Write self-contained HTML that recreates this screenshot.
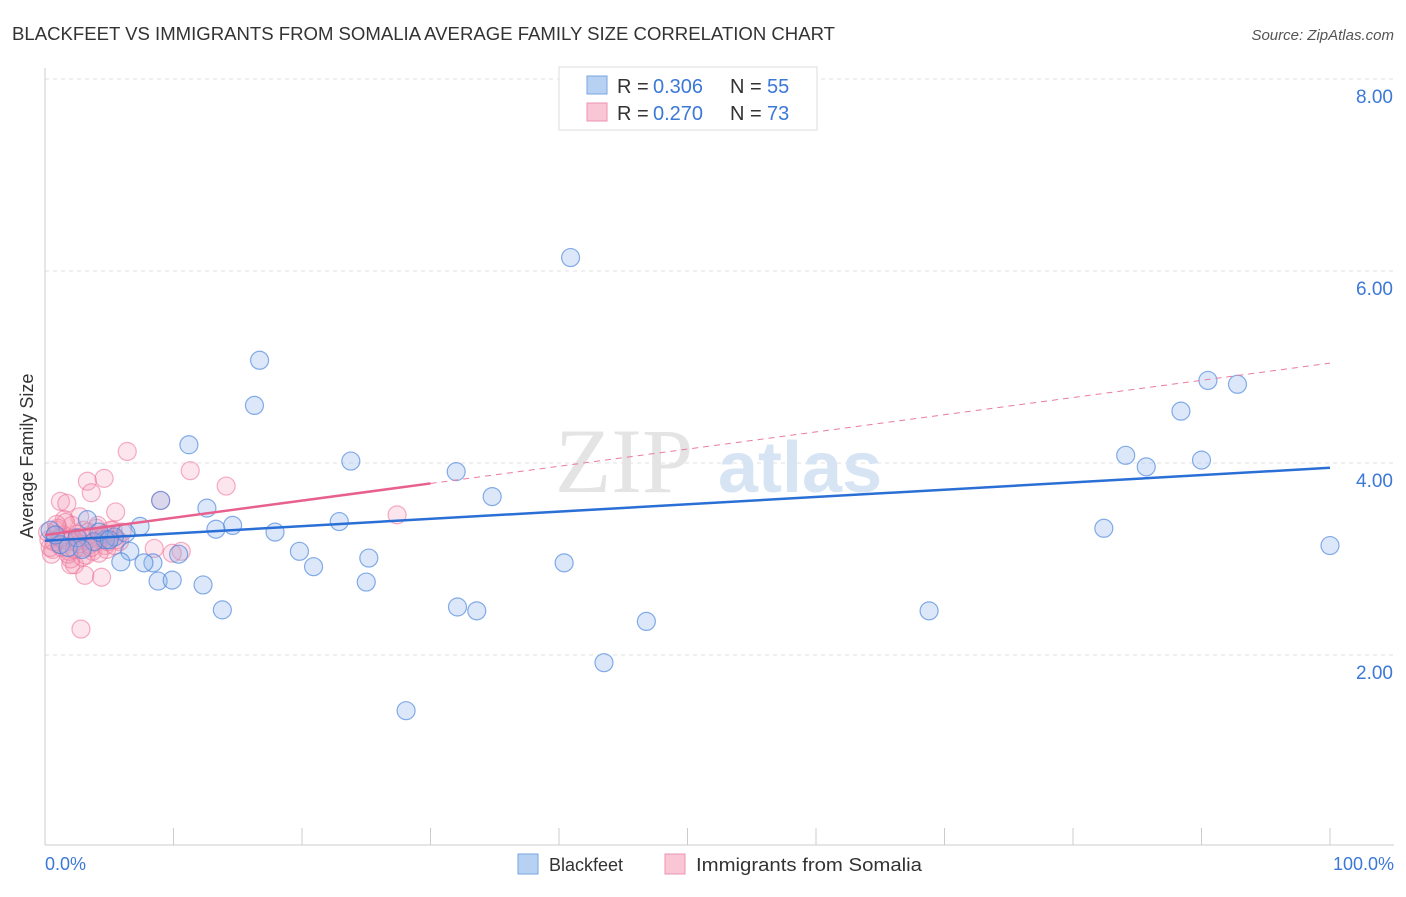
<!DOCTYPE html>
<html><head><meta charset="utf-8"><style>
body{margin:0;background:#fff;font-family:"Liberation Sans",sans-serif}
</style></head><body>
<svg width="1406" height="892" xmlns="http://www.w3.org/2000/svg" font-family="Liberation Sans, sans-serif">
<text x="12" y="40" font-size="18" fill="#333" textLength="823" lengthAdjust="spacingAndGlyphs">BLACKFEET VS IMMIGRANTS FROM SOMALIA AVERAGE FAMILY SIZE CORRELATION CHART</text>
<text x="1394" y="40" font-size="15" fill="#555" font-style="italic" text-anchor="end">Source: ZipAtlas.com</text>
<g id="grid"></g>
<text x="555" y="492" font-size="92" fill="#e4e4e4" font-family="Liberation Serif, serif">ZIP</text>
<text x="718" y="492" font-size="72" fill="#d6e4f4" font-weight="bold">atlas</text>
<line x1="45" y1="68" x2="45" y2="845" stroke="#ccc"/>
<line x1="45" y1="845" x2="1394" y2="845" stroke="#ccc"/>
<g id="ticks"></g>
<g id="marks"></g>
<g id="lines"></g>
<text x="33" y="456" font-size="18" fill="#333" text-anchor="middle" transform="rotate(-90 33 456)">Average Family Size</text>
<text x="45" y="870" font-size="18" fill="#3b78d8">0.0%</text>
<text x="1394" y="870" font-size="18" fill="#3b78d8" text-anchor="end">100.0%</text>
<g>
<rect x="559" y="67" width="258" height="63" fill="#fff" stroke="#ddd"/>
<rect x="587" y="76" width="20" height="18" fill="#b7d1f3" stroke="#7aa6e0"/>
<rect x="587" y="103" width="20" height="18" fill="#f9c6d6" stroke="#ee93b0"/>
<text x="617" y="93" font-size="20" fill="#333">R =</text><text x="653" y="93" font-size="20" fill="#3b78d8">0.306</text>
<text x="730" y="93" font-size="20" fill="#333">N =</text><text x="767" y="93" font-size="20" fill="#3b78d8">55</text>
<text x="617" y="120" font-size="20" fill="#333">R =</text><text x="653" y="120" font-size="20" fill="#3b78d8">0.270</text>
<text x="730" y="120" font-size="20" fill="#333">N =</text><text x="767" y="120" font-size="20" fill="#3b78d8">73</text>
</g>
<g>
<rect x="518" y="854" width="20" height="20" fill="#b7d1f3" stroke="#7aa6e0"/>
<text x="549" y="871" font-size="18" fill="#333">Blackfeet</text>
<rect x="665" y="854" width="20" height="20" fill="#f9c6d6" stroke="#ee93b0"/>
<text x="696" y="871" font-size="18" fill="#333" textLength="226" lengthAdjust="spacingAndGlyphs">Immigrants from Somalia</text>
</g>
</svg>
<script>
const yTicks=[2,4,6,8];
const yTickLabels=["2.00","4.00","6.00","8.00"];
const blackX=[40.9,16.7,16.3,11.2,23.8,32.0,34.8,9.0,12.6,14.6,13.3,17.9,22.9,7.4,6.3,3.3,5.4,4.7,6.6,10.4,19.8,25.2,5.9,8.4,7.7,20.9,40.4,8.8,9.9,12.3,25.0,13.8,32.1,33.6,46.8,43.5,28.1,68.8,82.4,84.1,85.7,88.4,90.0,90.5,92.8,100,0.4,1.2,2.5,3.8,1.8,0.8,2.9,4.2,5.0];
const blackY=[6.14,5.07,4.60,4.19,4.02,3.91,3.65,3.61,3.53,3.35,3.31,3.28,3.39,3.34,3.27,3.41,3.23,3.20,3.08,3.05,3.08,3.01,2.97,2.96,2.96,2.92,2.96,2.77,2.78,2.73,2.76,2.47,2.50,2.46,2.35,1.92,1.42,2.46,3.32,4.08,3.96,4.54,4.03,4.86,4.82,3.14,3.30,3.15,3.22,3.18,3.12,3.25,3.10,3.28,3.20];
const somX=[6.4,11.3,3.3,4.6,14.1,3.6,1.2,1.7,9.0,5.5,27.4,2.7,1.5,8.5,10.6,9.9,2.0,2.3,3.1,4.4,2.8,0.3,0.6,0.9,1.1,1.4,1.8,2.1,2.4,2.6,3.0,3.4,3.7,4.0,4.3,4.7,5.0,5.3,5.8,0.5,0.8,1.3,1.6,2.2,2.9,3.5,4.1,4.8,0.2,0.7,1.0,1.9,2.5,3.2,3.9,4.5,5.1,0.4,1.5,2.7,3.3,4.2,5.6,6.0,0.9,2.0,3.6,4.9,1.2,2.3,3.0,4.6,5.4];
const somY=[4.12,3.92,3.81,3.84,3.76,3.69,3.60,3.58,3.61,3.49,3.46,3.44,3.41,3.11,3.08,3.06,2.94,2.94,2.83,2.81,2.27,3.20,3.10,3.30,3.15,3.25,3.05,3.35,3.18,3.22,3.12,3.28,3.08,3.32,3.20,3.14,3.24,3.30,3.18,3.05,3.25,3.12,3.38,3.22,3.02,3.15,3.35,3.10,3.28,3.18,3.32,3.08,3.26,3.04,3.18,3.22,3.30,3.12,3.20,3.16,3.24,3.06,3.20,3.28,3.36,3.00,3.12,3.18,3.22,3.10,3.30,3.26,3.14];
const blueTrend=[3.19,3.95];
const pinkTrend=[3.25,5.04];
const pinkSolidEnd=30;
const xTickPct=[0,10,20,30,40,50,60,70,80,90,100];
const NS="http://www.w3.org/2000/svg";
const xs=p=>45+p*12.85, ys=v=>655-(v-2)*96;
function mk(t,a,parent){const e=document.createElementNS(NS,t);for(const k in a)e.setAttribute(k,a[k]);document.getElementById(parent).appendChild(e);return e;}
yTicks.forEach((v,i)=>{
 const l=mk('line',{x1:45,x2:1394,y1:ys(v),y2:ys(v),stroke:'#e2e2e2','stroke-dasharray':'4 4'},'grid');
 
 
 const t=mk('text',{x:1393,y:ys(v)+24,'font-size':19,fill:'#3b78d8','text-anchor':'end'},'grid');
 t.textContent=yTickLabels[i];
 
 
});
xTickPct.forEach(p=>{
 const l=mk('line',{x1:xs(p),x2:xs(p),y1:828,y2:845,stroke:'#ccc'},'ticks');
 
 
});
somX.forEach((x,i)=>{
 const c=mk('circle',{cx:xs(x),cy:ys(somY[i]),r:9,fill:'rgba(244,150,180,0.25)',stroke:'rgba(236,110,150,0.55)','stroke-width':1.2},'marks');
 
 
});
blackX.forEach((x,i)=>{
 const c=mk('circle',{cx:xs(x),cy:ys(blackY[i]),r:9,fill:'rgba(140,180,235,0.3)',stroke:'rgba(70,130,220,0.65)','stroke-width':1.2},'marks');
 
 
});
const pv=p=>pinkTrend[0]+(pinkTrend[1]-pinkTrend[0])*p/100;
let l1=mk('line',{x1:xs(pinkSolidEnd),y1:ys(pv(pinkSolidEnd)),x2:xs(100),y2:ys(pv(100)),stroke:'#ec7ba0','stroke-width':1,'stroke-dasharray':'6 5'},'lines');


let l2=mk('line',{x1:xs(0),y1:ys(pv(0)),x2:xs(pinkSolidEnd),y2:ys(pv(pinkSolidEnd)),stroke:'#e8608d','stroke-width':2.5},'lines');


let l3=mk('line',{x1:xs(0),y1:ys(blueTrend[0]),x2:xs(100),y2:ys(blueTrend[1]),stroke:'#2a6fd6','stroke-width':2.5},'lines');


</script>
</body></html>
